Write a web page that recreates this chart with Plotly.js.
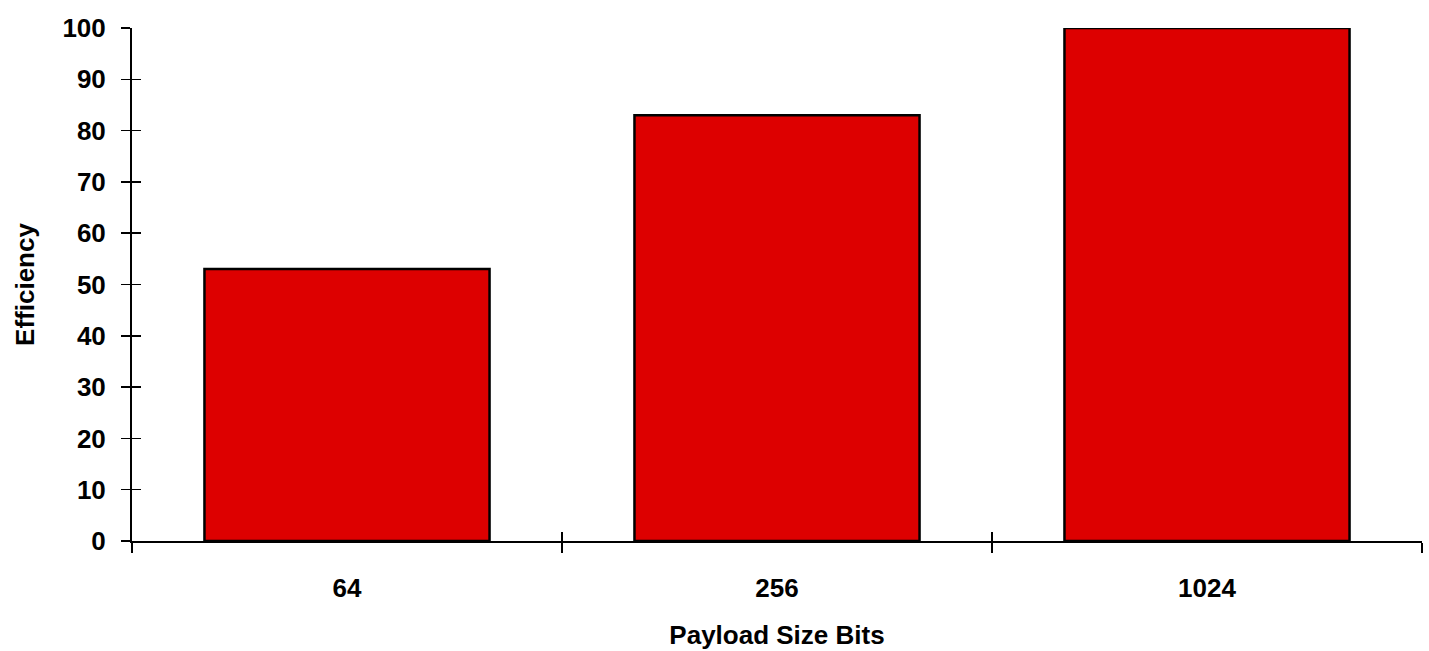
<!DOCTYPE html>
<html>
<head>
<meta charset="utf-8">
<script src="https://cdn.plot.ly/plotly-3.0.1.min.js"></script>
<style>html,body{margin:0;padding:0;background:#fff;}#chart{width:1429px;height:651px;}</style>
</head>
<body>
<div id="chart"></div>
<script>
const categories = ["64", "256", "1024"];
const efficiency = [53, 83, 100];
const yTicks = [0, 10, 20, 30, 40, 50, 60, 70, 80, 90, 100];

const tickFont = {family: "Liberation Sans, Arial, sans-serif", size: 26, color: "#000", weight: "bold"};
const titleFont = {family: "Liberation Sans Narrow, Liberation Sans, Arial, sans-serif", size: 26, color: "#000", weight: "bold"};

const data = [{
  type: "bar",
  x: categories,
  y: efficiency,
  width: 0.663,
  marker: {color: "#dd0000", line: {color: "#000", width: 2.5}},
  hoverinfo: "x+y"
}, {
  type: "scatter", x: categories, y: efficiency, xaxis: "x2", yaxis: "y2",
  mode: "markers", marker: {opacity: 0, size: 1}, showlegend: false, hoverinfo: "skip"
}];

const layout = {
  width: 1429, height: 651,
  margin: {l: 132, r: 7, t: 28, b: 110},
  paper_bgcolor: "#fff", plot_bgcolor: "#fff",
  showlegend: false,
  bargap: 0.337,
  xaxis: {
    type: "category", categoryarray: categories,
    tickson: "boundaries", ticks: "outside", ticklen: 10, tickwidth: 1.5, tickcolor: "#000",
    showline: true, linecolor: "#000", linewidth: 2, showgrid: false, zeroline: false,
    tickfont: tickFont, ticklabelstandoff: 23,
    title: {text: "Payload Size Bits", font: titleFont, standoff: 24},
    automargin: false
  },
  xaxis2: {
    type: "category", categoryarray: categories, overlaying: "x", range: [-0.5, 2.5],
    tickson: "boundaries", ticks: "inside", ticklen: 9, tickwidth: 1.5, tickcolor: "#000",
    showticklabels: false, showline: false, showgrid: false, zeroline: false, side: "bottom", anchor: "y2"
  },
  yaxis: {
    range: [0, 100], tickvals: yTicks, ticktext: yTicks.map(String),
    ticks: "outside", ticklen: 9, tickwidth: 1.5, tickcolor: "#000",
    showline: true, linecolor: "#000", linewidth: 2, showgrid: false, zeroline: false,
    tickfont: tickFont, ticklabelstandoff: 10,
    title: {text: "Efficiency", font: titleFont, standoff: 20},
    automargin: false
  },
  yaxis2: {
    range: [0, 100], tickvals: yTicks, overlaying: "y", side: "left", anchor: "x2",
    ticks: "inside", ticklen: 9, tickwidth: 1.5, tickcolor: "#000",
    showticklabels: false, showline: false, showgrid: false, zeroline: false
  }
};

Plotly.newPlot("chart", data, layout, {displayModeBar: false, staticPlot: true});
</script>
</body>
</html>
